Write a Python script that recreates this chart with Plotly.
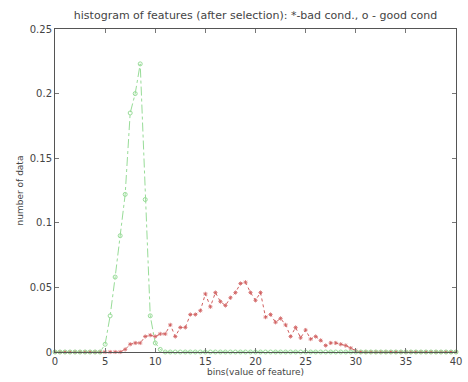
import plotly.graph_objects as go

x_bins = [i * 0.5 for i in range(81)]

good_cond = [0.0] * 10 + [
    0.006, 0.028, 0.058, 0.090, 0.122, 0.185, 0.200, 0.223,
    0.118, 0.028, 0.007, 0.002,
] + [0.0] * 59

bad_cond = [0.0] * 14 + [
    0.002, 0.006, 0.007, 0.007, 0.012, 0.013, 0.012, 0.014, 0.014, 0.021,
    0.012, 0.019, 0.019, 0.029, 0.029, 0.032, 0.045, 0.035, 0.046, 0.039,
    0.036, 0.042, 0.046, 0.053, 0.054, 0.046, 0.040, 0.046, 0.027, 0.029,
    0.023, 0.026, 0.021, 0.012, 0.019, 0.011, 0.017, 0.010, 0.012, 0.009,
    0.005, 0.007, 0.007, 0.006, 0.005, 0.003, 0.001,
] + [0.0] * 20

x_ticks = [0, 5, 10, 15, 20, 25, 30, 35, 40]
y_ticks = [0, 0.05, 0.1, 0.15, 0.2, 0.25]
y_tick_text = ["0", "0.05", "0.1", "0.15", "0.2", "0.25"]

fig = go.Figure()
fig.add_trace(go.Scatter(
    x=x_bins, y=bad_cond, mode="lines+markers",
    line=dict(color="#d06060", width=1, dash="dot"),
    marker=dict(symbol="asterisk-open", size=3.5, color="#d06060", line=dict(width=0.8, color="#d06060")),
    cliponaxis=False, showlegend=False,
))
fig.add_trace(go.Scatter(
    x=x_bins, y=good_cond, mode="lines+markers",
    line=dict(color="#98dc98", width=1, dash="dashdot"),
    marker=dict(symbol="circle-open", size=4, color="#98dc98", line=dict(width=1, color="#98dc98")),
    cliponaxis=False, showlegend=False,
))

font_family = "DejaVu Sans, Verdana, sans-serif"
axis_common = dict(
    showgrid=False, zeroline=False, showline=True, linecolor="#555555", linewidth=1,
    mirror="ticks", ticks="inside", ticklen=4, tickcolor="#777777",
    tickfont=dict(family=font_family, size=10, color="#444444"),
    ticklabeloverflow="allow",
)

fig.update_layout(
    width=468, height=382,
    margin=dict(l=55, r=6, t=29, b=30),
    plot_bgcolor="white", paper_bgcolor="white",
    title=dict(
        text="histogram of features (after selection): *-bad cond., o - good cond",
        x=0.5, xref="paper", y=1 - 15 / 382, yanchor="middle",
        font=dict(family=font_family, size=11, color="#444444"),
    ),
    xaxis=dict(
        range=[0, 40], tickvals=x_ticks,
        title=dict(text="bins(value of feature)", standoff=1,
                   font=dict(family=font_family, size=9, color="#444444")),
        **axis_common,
    ),
    yaxis=dict(
        range=[0, 0.25], tickvals=y_ticks, ticktext=y_tick_text,
        title=dict(text="number of data", standoff=4,
                   font=dict(family=font_family, size=9, color="#444444")),
        **axis_common,
    ),
)

fig.write_html("out.html")
